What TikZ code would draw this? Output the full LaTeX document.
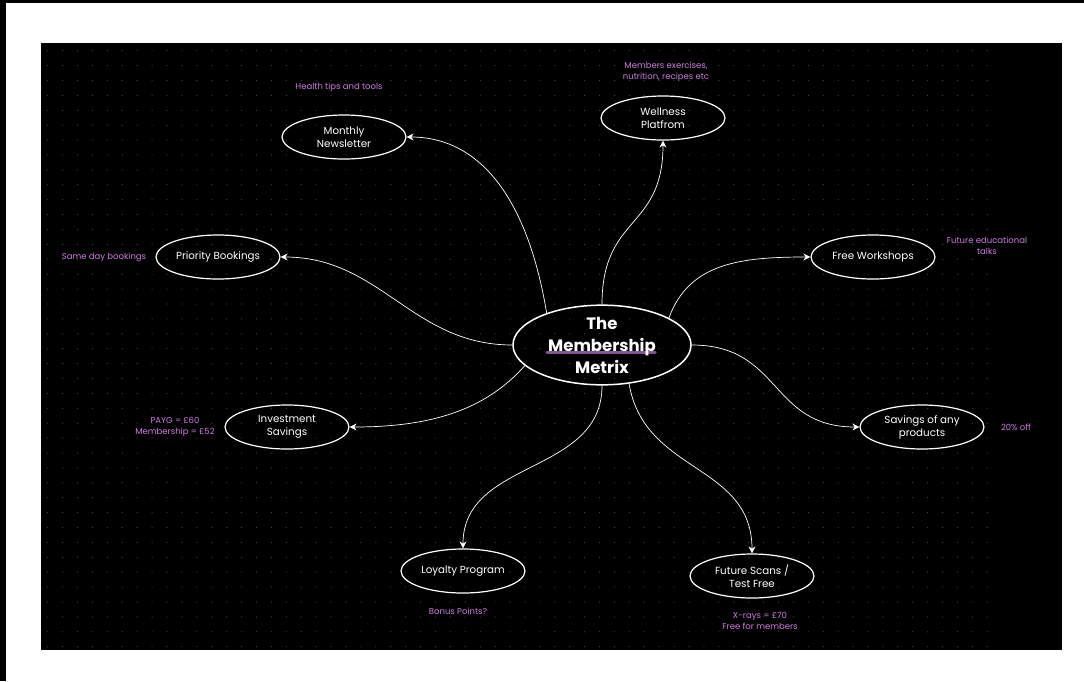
\documentclass[tikz,border=0pt]{standalone}
\usepackage{fontspec}
\setmainfont{Poppins}
\usetikzlibrary{shapes.geometric,arrows.meta}
\definecolor{board}{RGB}{0,0,0}
\definecolor{notepurple}{RGB}{205,125,225}
\definecolor{dotgrey}{RGB}{70,70,70}
\definecolor{markline}{RGB}{130,85,150}

\begin{document}
\begin{tikzpicture}[x=1pt,y=-1pt,
		bubble/.style={draw=white, line width=1.2pt, ellipse, minimum width=124pt, minimum height=44pt, inner sep=0pt, text=white, align=center, font=\fontsize{10.3}{13}\selectfont},
		remark/.style={text=notepurple, align=center, font=\fontsize{8.5}{11}\selectfont},
		link/.style={draw=white, line width=0.7pt, -{Stealth[length=7pt,width=7pt]}}]
			\useasboundingbox (0, 0) rectangle (1084, 681);
			\fill [white] (0, 0) rectangle (1084, 681);
			\fill [black] (0, 0) rectangle (6, 681);
			\fill [black] (0, 0) rectangle (1084, 3);
			\fill [board] (41, 43) rectangle (1062, 650);
			\foreach \i in {0,...,63}
				\foreach \j in {0,...,40}
					\fill [dotgrey] (47.7+\i*14.914, 50.7+\j*14.9) circle (0.6pt);

			\draw [markline, line width=3pt, line cap=round] (547, 352) -- (655, 352);
			\node[bubble, minimum width=178pt, minimum height=76pt, line width=1.5pt, font=\bfseries\fontsize{16.5}{22}\selectfont] (ctr) at (602, 345) {The\\Membership\\Metrix};

			\node[bubble] (news) at (344, 137) {Monthly\\Newsletter};
			\node[bubble] (well) at (663, 118) {Wellness\\Platfrom};
			\node[bubble] (prio) at (218, 257) {Priority Bookings};
			\node[bubble] (work) at (873, 257) {Free Workshops};
			\node[bubble] (inv) at (287, 427) {Investment\\Savings};
			\node[bubble] (sav) at (922, 427) {Savings of any\\products};
			\node[bubble] (loy) at (463, 571) {Loyalty Program};
			\node[bubble] (scan) at (752, 576) {Future Scans /\\Test Free};

			\node[remark] (newsnote) at (339, 87) {Health tips and tools};
			\node[remark] (wellnote) at (666, 72) {Members exercises,\\nutrition, recipes etc};
			\node[remark] (prionote) at (104, 257) {Same day bookings};
			\node[remark] (worknote) at (987, 246) {Future educational\\talks};
			\node[remark] (invnote) at (175, 427) {PAYG = £60\\Membership = £52};
			\node[remark] (savnote) at (1016, 427) {20\% off};
			\node[remark] (loynote) at (458, 611) {Bonus Points?};
			\node[remark] (scannote) at (760, 621) {X-rays = £70\\Free for members};

			\draw [link] (ctr.150) .. controls +(-20, -120) and +(70, 0) .. (news.east);
			\draw [link] (ctr.north) .. controls +(0, -90) and +(0, 90) .. (well.south);
			\draw [link] (ctr.west) .. controls +(-100, 0) and +(100, 0) .. (prio.east);
			\draw [link] (ctr.22) .. controls +(20, -55) and +(-70, 0) .. (work.west);
			\draw [link] (ctr.east) .. controls +(90, 0) and +(-90, 0) .. (sav.west);
			\draw [link] (ctr.195) .. controls +(-40, 45) and +(80, 0) .. (inv.east);
			\draw [link] (ctr.south) .. controls +(0, 90) and +(0, -90) .. (loy.north);
			\draw [link] (ctr.305) .. controls +(15, 90) and +(0, -90) .. (scan.north);
		\end{tikzpicture}
\end{document}
